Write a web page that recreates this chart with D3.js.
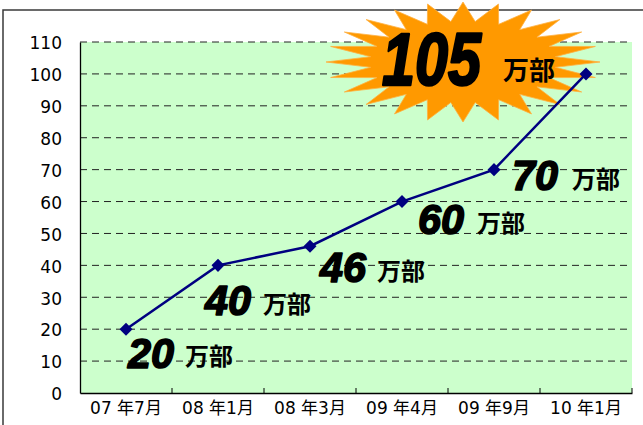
<!DOCTYPE html>
<html><head><meta charset="utf-8">
<script src="https://cdn.jsdelivr.net/npm/d3@7"></script>
<style>body{margin:0;background:#fff}svg{display:block}</style>
</head><body>
<script>
const categories = ["07 年7月","08 年1月","08 年3月","09 年4月","09 年9月","10 年1月"];
const values = [20, 40, 46, 60, 70, 100];
const labelNumbers = ["20","40","46","60","70","105"];
const unitText = "万部";
const yTicks = [0,10,20,30,40,50,60,70,80,90,100,110];

const W = 643, H = 425;
const plot = {left: 80, right: 632, top: 42, bottom: 393};
const svg = d3.select("body").append("svg").attr("width", W).attr("height", H);

const x = d3.scaleBand().domain(categories).range([plot.left, plot.right]).padding(0);
const y = d3.scaleLinear().domain([0, 110]).range([plot.bottom, plot.top]);

// outer border
svg.append("path").attr("d", `M3,${H+5} L3,10 L${W+5},10`)
  .attr("fill","none").attr("stroke","#3a3a3a").attr("stroke-width",1.5);

// plot background
svg.append("rect").attr("x", plot.left).attr("y", plot.top)
  .attr("width", plot.right-plot.left).attr("height", plot.bottom-plot.top)
  .attr("fill", "#ccffcc");

// gridlines
svg.append("g").selectAll("line").data(yTicks.filter(d=>d>0)).join("line")
  .attr("x1", plot.left).attr("x2", plot.right)
  .attr("y1", d=>y(d)).attr("y2", d=>y(d))
  .attr("stroke","#222").attr("stroke-width",1).attr("stroke-dasharray","7,5");

// axes
const yAxis = svg.append("g").attr("transform",`translate(${plot.left},0)`)
  .call(d3.axisLeft(y).tickValues(yTicks).tickSize(0).tickPadding(18));
yAxis.select(".domain").attr("stroke","#000").attr("stroke-width",1.3);
yAxis.selectAll("text").attr("font-family","'DejaVu Sans', sans-serif")
  .attr("font-size",17).attr("fill","#000").attr("dy","0.4em");

const xAxis = svg.append("g").attr("transform",`translate(0,${plot.bottom})`)
  .call(d3.axisBottom(x).tickSize(0).tickPadding(6));
xAxis.select(".domain").attr("stroke","#000").attr("stroke-width",1.3);
xAxis.selectAll("text").attr("font-family","'DejaVu Sans', 'Noto Sans CJK JP', sans-serif")
  .attr("font-size",17).attr("fill","#000").attr("dy","0.9em");
// category separator ticks (inward)
const bounds = categories.map(c => x(c) + x.bandwidth());
svg.append("g").selectAll("line").data(bounds).join("line")
  .attr("x1", d=>d).attr("x2", d=>d).attr("y1", plot.bottom).attr("y2", plot.bottom-5)
  .attr("stroke","#000").attr("stroke-width",1);

// starburst
const cx = 463, cy = 62, rx = 137, ry = 60, inner = 0.68, nPts = 24;
const starPts = [];
for (let i = 0; i < nPts*2; i++) {
  const a = -Math.PI/2 + i*Math.PI/nPts;
  const k = i%2===0 ? 1 : inner;
  starPts.push([cx + rx*k*Math.cos(a), cy + ry*k*Math.sin(a)]);
}
svg.append("path").attr("d", d3.line()(starPts) + "Z")
  .attr("fill","#ff9900").attr("stroke","#ffb040").attr("stroke-width",0.8);

// line
const cxOf = c => x(c) + x.bandwidth()/2;
const pts = categories.map((c,i)=>[cxOf(c), y(values[i])]);
svg.append("path").attr("d", d3.line()(pts))
  .attr("fill","none").attr("stroke","#000080").attr("stroke-width",2.5);
svg.append("g").selectAll("path").data(pts).join("path")
  .attr("d", d3.symbol().type(d3.symbolSquare).size(85)())
  .attr("transform", d=>`translate(${d[0]},${d[1]}) rotate(45)`)
  .attr("fill","#000080");

// labels
const offs = [[2,39],[-13,50],[10,36],[16,32],[18,20],[-204,11]];
const unitOffs = [[59,36],[45,48],[67,34],[75,30],[78,18],[-83,6]];
const g = svg.append("g");
labelNumbers.forEach((t,i)=>{
  const [px,py] = pts[i];
  const big = i === labelNumbers.length-1;
  const num = g.append("text").attr("x", px+offs[i][0]).attr("y", py+offs[i][1])
    .attr("font-family","'Liberation Sans', Arial, sans-serif")
    .attr("font-weight","bold").attr("font-style","italic")
    .attr("font-size", big ? 74 : 42)
    .attr("fill","#000").attr("stroke","#000").attr("stroke-width", big ? 2.5 : 1.6)
    .attr("stroke-linejoin","round")
    .text(t);
  num.attr("textLength", big ? 99 : 46).attr("lengthAdjust","spacingAndGlyphs");
  g.append("text").attr("x", px+unitOffs[i][0]).attr("y", py+unitOffs[i][1])
    .attr("font-family","'Noto Sans CJK JP', sans-serif").attr("font-weight","bold")
    .attr("font-size", big ? 26 : 24).attr("fill","#000")
    .text(unitText);
});
</script>
</body></html>
